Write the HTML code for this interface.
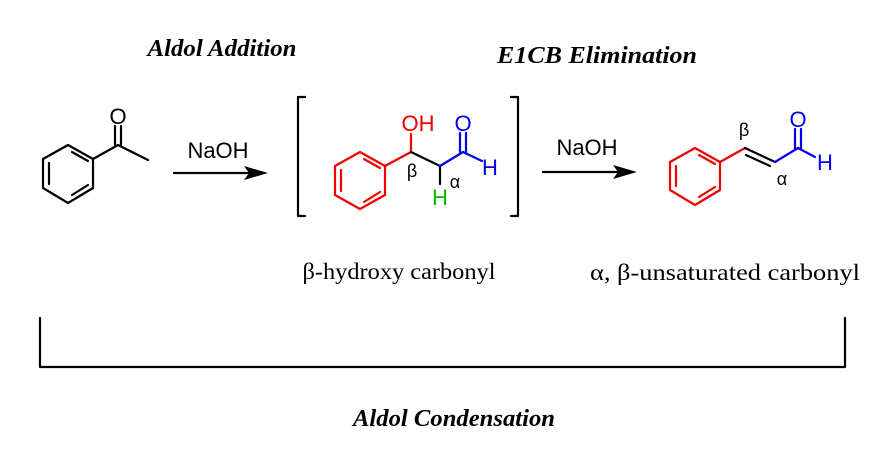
<!DOCTYPE html>
<html><head><meta charset="utf-8"><style>body{margin:0;background:#fff}svg{display:block}</style></head><body>
<svg width="881" height="454" viewBox="0 0 881 454" xmlns="http://www.w3.org/2000/svg">
<g font-family="Liberation Serif, serif" font-weight="bold" font-style="italic" font-size="24" text-anchor="middle" fill="#000">
<text x="222" y="56" textLength="149" lengthAdjust="spacingAndGlyphs">Aldol Addition</text>
<text x="597" y="63" textLength="200" lengthAdjust="spacingAndGlyphs">E1CB Elimination</text>
<text x="454" y="426" textLength="202" lengthAdjust="spacingAndGlyphs">Aldol Condensation</text>
</g>
<g font-family="Liberation Serif, serif" font-size="23" text-anchor="middle" fill="#000">
<text x="399" y="279" textLength="193" lengthAdjust="spacingAndGlyphs">β-hydroxy carbonyl</text>
<text x="725" y="280" textLength="270" lengthAdjust="spacingAndGlyphs">α, β-unsaturated carbonyl</text>
</g>
<g fill="none" stroke-width="2.2" stroke-linecap="round" stroke-linejoin="round">
<g stroke="#000">
<polygon points="68,145 93,159 93,188 68,203 43,188 43,159"/>
<line x1="72" y1="152" x2="88" y2="161"/><line x1="88" y1="185" x2="72" y2="195"/><line x1="49" y1="163" x2="49" y2="184"/>
<line x1="93" y1="159" x2="118" y2="145"/><line x1="118" y1="145" x2="148" y2="160"/>
<line x1="115" y1="145" x2="115" y2="126"/><line x1="121" y1="145" x2="121" y2="126"/>
<line x1="174" y1="173" x2="250" y2="173"/>
<line x1="543" y1="172" x2="620" y2="172"/>
<polyline points="305,97 298,97 298,216 305,216"/>
<polyline points="511,97 518,97 518,216 511,216"/>
<polyline points="40,318 40,367 845,367 845,318"/>
</g>
<g stroke="#e00">
<polygon points="360,152 385,166 385,195 360,209 335,195 335,166"/>
<line x1="364" y1="159" x2="380" y2="168"/><line x1="380" y1="192" x2="364" y2="202"/><line x1="341" y1="170" x2="341" y2="191"/>
<line x1="385" y1="166" x2="411" y2="152"/><line x1="411" y1="152" x2="411" y2="134"/>
</g>
<line x1="411" y1="152" x2="440" y2="166" stroke="#000"/>
<line x1="440" y1="166" x2="440" y2="184" stroke="#000"/>
<g stroke="#00e"><line x1="440" y1="166" x2="463" y2="152"/><line x1="463" y1="152" x2="482" y2="161"/><line x1="460" y1="152" x2="460" y2="133"/><line x1="466" y1="152" x2="466" y2="133"/></g>
<g stroke="#e00">
<polygon points="695,148 720,162 720,190 695,205 670,190 670,162"/>
<line x1="699" y1="155" x2="715" y2="164"/><line x1="715" y1="187" x2="699" y2="197"/><line x1="676" y1="166" x2="676" y2="186"/>
<line x1="720" y1="162" x2="745" y2="148"/>
</g>
<g stroke="#000"><line x1="745" y1="148" x2="775" y2="162"/><line x1="746" y1="155" x2="770" y2="166"/></g>
<g stroke="#00e"><line x1="775" y1="162" x2="798" y2="148"/><line x1="798" y1="148" x2="815" y2="157"/><line x1="795" y1="148" x2="795" y2="129"/><line x1="801" y1="148" x2="801" y2="129"/></g>
</g>
<polygon points="268,173 244,166 249,173 244,180" fill="#000"/>
<polygon points="637,172 613,165 618,172 613,179" fill="#000"/>
<g font-family="Liberation Sans, sans-serif" font-size="22" text-anchor="middle">
<text x="118" y="124">O</text>
<text x="218" y="158">NaOH</text>
<text x="587" y="155">NaOH</text>
<text x="418" y="131" fill="#e00">OH</text>
<text x="463" y="131" fill="#00e">O</text>
<text x="490" y="175" fill="#00e">H</text>
<text x="440" y="205" fill="#0b0">H</text>
<text x="798" y="127" fill="#00e">O</text>
<text x="825" y="170" fill="#00e">H</text>
<text x="412" y="177" font-size="18">β</text>
<text x="455" y="188" font-size="18">α</text>
<text x="744" y="136" font-size="18">β</text>
<text x="782" y="185" font-size="18">α</text>
</g>
</svg>
</body></html>
